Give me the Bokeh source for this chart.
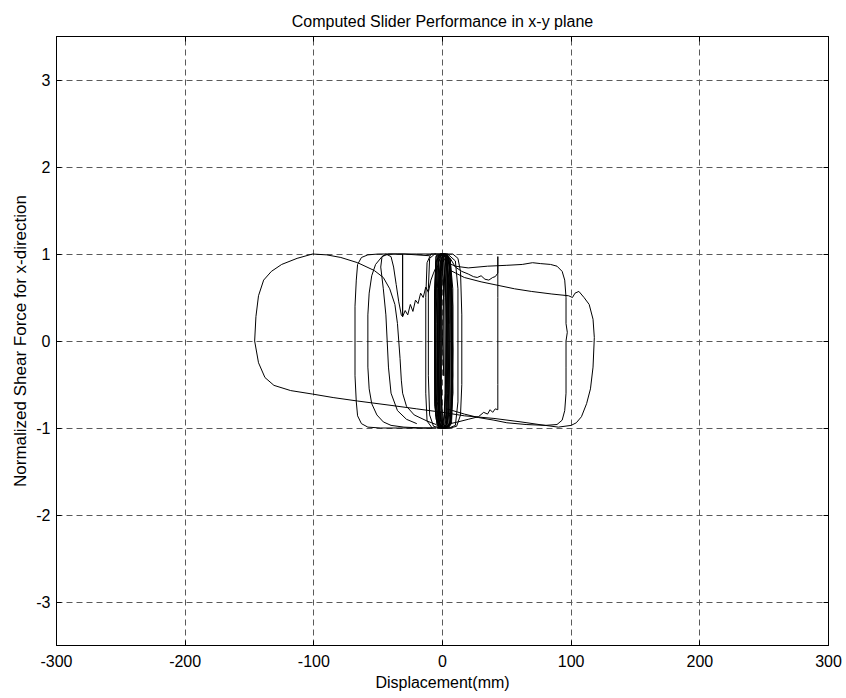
from bokeh.plotting import figure
from bokeh.models import LinearAxis, FixedTicker, Range1d
from bokeh.embed import file_html
from bokeh.resources import INLINE

# ---- texts ----
title_text = "Computed Slider Performance in x-y plane"
x_label = "Displacement(mm)"
y_label = "Normalized Shear Force for x-direction"

# ---- axis ticks ----
x_ticks = [-300, -200, -100, 0, 100, 200, 300]
y_ticks = [-3, -2, -1, 0, 1, 2, 3]

# ---- dense central oscillations ----
center_disp = [0, 1, 3, 5, 6, 6, 5, 2, -2, -4, -4, -3, 0, 4, 7, 7, 6, 3, -1, -5, -6, -6, -5, -2, 2, 5, 6, 5, 3, -3,
               -5, -5, -4, -1, 3, 6, 8, 8, 7, 4, 0, -3, -4, -3, -1, 2, 4, 4, 3, 0, -4, -6, -6, -5, -1, 4, 6, 7, 7, 5,
               1, -2, -3, -2, 0, 3, 5, 5, 4, 1, -3, -5, -5, -4, -1, 1, 2, 2, 1, -1, -2, -2, -1, 1, 3, 3, 2, 0, -1, -1,
               0, 1, 1, 0]
center_force = [0, 0.7, 0.98, 0.95, 0.6, -0.7, -0.98, -1.0, -0.97, -0.7, 0.6, 0.95, 1.0, 0.97, 0.7, -0.5, -0.95, -1.0,
                -1.0, -0.9, -0.4, 0.5, 0.92, 1.0, 1.0, 0.9, 0.3, -0.8, -1.0, -1.0, -0.85, 0.2, 0.85, 1.0, 1.0, 0.93,
                0.6, -0.6, -0.95, -1.0, -1.0, -0.92, -0.3, 0.7, 0.98, 1.0, 0.8, -0.6, -0.97, -1.0, -0.97, -0.75, 0.6,
                0.97, 1.0, 0.99, 0.85, 0.2, -0.8, -1.0, -1.0, -0.9, -0.2, 0.8, 1.0, 0.98, 0.7, -0.75, -0.99, -1.0,
                -0.98, -0.7, 0.5, 0.93, 1.0, 0.95, 0.5, -0.6, -0.95, -1.0, -0.8, 0.3, 0.85, 1.0, 0.9, -0.7, -0.97,
                -0.98, -0.5, 0.5, 0.9, 0.6, -0.4, 0]

center2_disp = [-1, -3, -4, -3, -1, 2, 4, 5, 4, 2, -2, -5, -6, -5, -2, 3, 6, 8, 7, 3, 0, -2, -2, 0, 1, 3, 3, 1, -3, -5,
                -6, -4, 0, 5, 7, 8, 6, 1, -2, -3, -2, -1, 2, 4, 4, 3, 1, -4, -6, -6, -5, -1, 3, 5, 5, 4, 0, -1, -1, 0,
                2, 3, 2, 0, -3, -3, -2, 1, 6, 8, 8, 6, 2, -1, -2, -1, 1, 4, 5]
center2_force = [-1.0, -0.9, 0.0, 0.9, 1.0, 1.0, 0.9, 0.0, -0.9, -1.0, -1.0, -0.85, 0.1, 0.9, 1.0, 1.0, 0.85, -0.1,
                 -0.9, -1.0, -1.0, -0.8, 0.7, 1.0, 0.9, 0.4, -0.5, -0.95, -1.0, -0.6, 0.5, 0.97, 1.0, 0.97, 0.6, -0.6,
                 -0.97, -1.0, -0.97, -0.4, 0.6, 0.95, 1.0, 0.7, -0.3, -0.9, -1.0, -1.0, -0.7, 0.6, 0.98, 1.0, 0.96,
                 0.6, -0.5, -0.95, -1.0, -0.6, 0.4, 0.9, 0.95, 0.2, -0.8, -0.97, -0.95, 0.3, 0.9, 1.0, 0.95, 0.4,
                 -0.4, -0.95, -1.0, -0.9, 0.0, 0.8, 0.98, 0.99, 0.2]

# ---- medium loops near the centre ----
mid_disp = [-8, -12, -13, -13, -12, -9, 0, 8, 12, 14, 15, 15, 14, 11, 6, -2, -7, -10, -11, -11, -10, -6, 4, 10, 12, 12,
            10, 5]
mid_force = [-1.0, -0.92, -0.6, 0.5, 0.9, 1.0, 1.0, 1.0, 0.95, 0.8, 0.3, -0.5, -0.85, -0.98, -1.0, -1.0, -0.98, -0.85,
             -0.4, 0.6, 0.95, 1.0, 1.0, 0.92, 0.6, -0.7, -0.97, -1.0]

# ---- largest excursion (right to +118, left to -146) ----
big_disp = [5, 17, 30, 43, 56, 69, 85, 98, 101, 103, 106, 110, 114, 117, 118, 117, 115, 112, 108, 104, 100, 90, 75, 61,
            40, 17, 0, -20, -40, -66, -85, -101, -118, -131, -138, -143, -146, -145, -143, -139, -133, -125, -113,
            -101, -90, -79, -66, -53, -46, -41, -37, -35, -34, -33, -32, -31, -28, -22, -12, -5]
big_force = [0.82, 0.73, 0.68, 0.64, 0.6, 0.57, 0.54, 0.52, 0.5, 0.55, 0.57, 0.5, 0.42, 0.25, 0.04, -0.3, -0.55, -0.72,
             -0.87, -0.94, -0.97, -0.99, -0.96, -0.93, -0.89, -0.86, -0.82, -0.78, -0.74, -0.69, -0.65, -0.61, -0.57,
             -0.51, -0.42, -0.25, 0.0, 0.28, 0.52, 0.7, 0.8, 0.88, 0.95, 1.0, 0.99, 0.96, 0.9, 0.81, 0.73, 0.6, 0.42,
             0.2, 0.0, -0.2, -0.45, -0.6, -0.75, -0.85, -0.92, -0.96]

# ---- loop reaching +96 ----
r96_disp = [4, 10, 20, 35, 50, 62, 70, 76, 84, 89, 93, 95, 96, 96, 97, 96, 96, 96, 95, 93, 89, 80, 65, 50, 40, 28, 17,
            8, 3]
r96_force = [0.9, 0.86, 0.84, 0.86, 0.87, 0.88, 0.9, 0.89, 0.88, 0.86, 0.8, 0.7, 0.5, 0.2, 0.1, 0.0, -0.3, -0.6, -0.8,
             -0.91, -0.96, -0.97, -0.96, -0.94, -0.91, -0.88, -0.84, -0.8, -0.78]

# ---- loop with the reversal near +43 ----
r43_disp = [6, 10, 15, 20, 24, 27, 30, 33, 36, 39, 41, 43, 43, 43, 43, 43, 43, 41, 39, 37, 35, 32, 28, 20, 12, 6]
r43_force = [0.95, 0.85, 0.8, 0.77, 0.74, 0.73, 0.75, 0.71, 0.7, 0.73, 0.74, 0.78, 0.97, 0.5, 0.0, -0.5, -0.79, -0.78,
             -0.82, -0.79, -0.84, -0.82, -0.87, -0.9, -0.93, -0.95]

# ---- loop reaching -68 ----
l68_disp = [-5, -20, -35, -50, -58, -63, -66, -67, -68, -68, -68, -67, -66, -63, -58, -48, -35, -20, -5]
l68_force = [1.0, 1.0, 1.0, 1.0, 0.99, 0.96, 0.88, 0.7, 0.4, 0.0, -0.4, -0.7, -0.86, -0.95, -0.99, -1.0, -1.0, -1.0,
             -1.0]

# ---- loop reaching -58 ----
l58_disp = [-10, -30, -42, -47, -52, -55, -57, -58, -58, -58, -57, -55, -51, -46, -40, -30, -15, -5]
l58_force = [0.98, 1.0, 1.0, 0.97, 0.88, 0.75, 0.55, 0.3, 0.0, -0.3, -0.55, -0.72, -0.85, -0.93, -0.97, -0.99, -1.0,
             -1.0]

# ---- loop reaching -48 with the jagged return ----
l48_disp = [-20, -28, -35, -40, -42, -43, -44, -46, -48, -47, -44, -40, -38, -36, -34, -32, -31, -31, -31, -31, -29,
            -27, -25, -23, -21, -19, -17, -15, -13, -11, -9, -7, -5]
l48_force = [-0.95, -0.9, -0.8, -0.6, -0.3, 0.0, 0.3, 0.6, 0.85, 0.97, 1.0, 0.97, 0.85, 0.65, 0.45, 0.3, 0.28, 0.6, 1.0,
             0.28, 0.35, 0.3, 0.42, 0.34, 0.47, 0.43, 0.55, 0.5, 0.62, 0.56, 0.7, 0.78, 0.85]

FONT = "Liberation Sans"

p = figure(width=846, height=698,
           x_range=Range1d(-300, 300), y_range=Range1d(-3.5, 3.5),
           output_backend="svg", toolbar_location=None,
           min_border_left=56, min_border_right=18, min_border_top=36, min_border_bottom=53,
           title=title_text)

p.title.align = "center"
p.title.vertical_align = "top"
p.title.text_font = FONT
p.title.text_font_size = "16px"
p.title.text_font_style = "normal"
p.title.text_color = "black"
p.title.standoff = 10

p.background_fill_color = "white"
p.border_fill_color = "white"
p.outline_line_color = "black"
p.outline_line_width = 1

for ax in (p.xaxis[0], p.yaxis[0]):
    ax.major_label_text_font = FONT
    ax.major_label_text_font_size = "16px"
    ax.major_label_text_color = "black"
    ax.axis_label_text_font = FONT
    ax.axis_label_text_font_size = "16px"
    ax.axis_label_text_font_style = "normal"
    ax.axis_label_text_color = "black"
    ax.major_tick_in = 5
    ax.major_tick_out = 0
    ax.minor_tick_line_color = None
    ax.axis_line_color = "black"
    ax.major_tick_line_color = "black"

p.xaxis[0].ticker = FixedTicker(ticks=x_ticks)
p.yaxis[0].ticker = FixedTicker(ticks=y_ticks)
p.xaxis[0].major_label_overrides = {t: str(t) for t in x_ticks}
p.yaxis[0].major_label_overrides = {t: str(t) for t in y_ticks}
p.xaxis[0].major_label_standoff = 9
p.yaxis[0].major_label_standoff = 6
p.xaxis[0].axis_label = x_label
p.yaxis[0].axis_label = y_label
p.yaxis[0].axis_label_text_font_size = "17px"
p.xaxis[0].axis_label_standoff = 4
p.yaxis[0].axis_label_standoff = 3

top_ax = LinearAxis(ticker=FixedTicker(ticks=x_ticks))
right_ax = LinearAxis(ticker=FixedTicker(ticks=y_ticks))
for ax in (top_ax, right_ax):
    ax.major_label_text_font_size = "0px"
    ax.major_label_text_color = None
    ax.major_label_standoff = 0
    ax.major_tick_in = 5
    ax.major_tick_out = 0
    ax.minor_tick_line_color = None
    ax.axis_line_color = "black"
    ax.major_tick_line_color = "black"
p.add_layout(top_ax, "above")
p.add_layout(right_ax, "right")

p.xgrid.ticker = FixedTicker(ticks=x_ticks)
p.ygrid.ticker = FixedTicker(ticks=y_ticks)
for g in (p.xgrid, p.ygrid):
    g.grid_line_color = "#5a5a5a"
    g.grid_line_dash = "6 4"
    g.grid_line_width = 1

for xs, ys in ((center_disp, center_force), (center2_disp, center2_force), (mid_disp, mid_force),
               (big_disp, big_force), (r96_disp, r96_force), (r43_disp, r43_force),
               (l68_disp, l68_force), (l58_disp, l58_force), (l48_disp, l48_force)):
    p.line(xs, ys, line_color="black", line_width=1)

open("out.html", "w").write(file_html(p, INLINE))
